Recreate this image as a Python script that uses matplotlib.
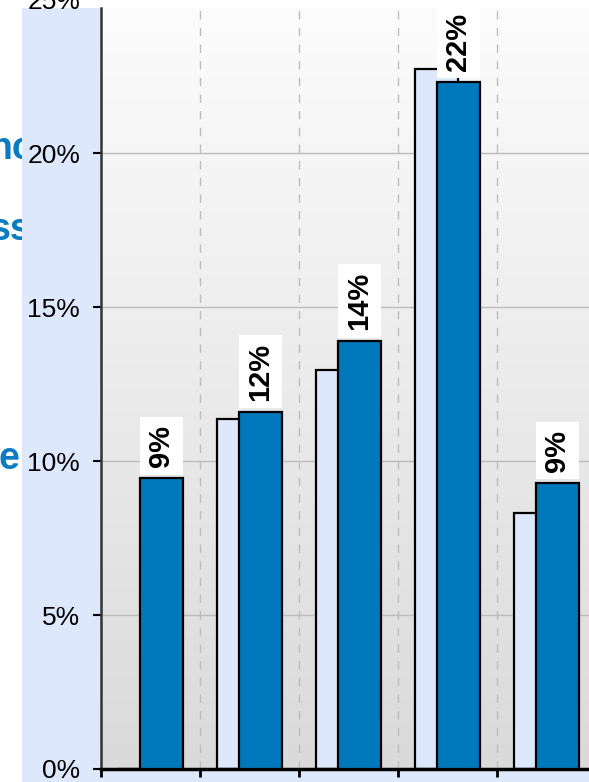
import numpy as np
import matplotlib
matplotlib.use("Agg")
import matplotlib.pyplot as plt
from matplotlib.colors import LinearSegmentedColormap
from matplotlib.patches import Rectangle
from matplotlib.transforms import Bbox, TransformedBbox

# share of respondents per group, previous vs current survey
groups = ['A', 'B', 'C', 'D', 'E']
previous = [0.0, 0.1137, 0.1296, 0.2274, 0.0832]
current = [0.0945, 0.1160, 0.1390, 0.2232, 0.0929]
y_ticks = [0.0, 0.05, 0.10, 0.15, 0.20]

W, H = 589, 782
DARK = '#0079BC'
LIGHT = '#DDE8FC'
PANEL = '#DDE8FC'
BAR_W = 0.444

plt.rcParams['font.family'] = ['Liberation Sans', 'DejaVu Sans']

fig = plt.figure(figsize=(W / 100, H / 100), dpi=100)
fig.patch.set_facecolor('white')

# slide headline peeking out to the left of the chart panel
left_strip = TransformedBbox(Bbox([[0, 0], [22 / W, 1]]), fig.transFigure)
for txt, x, y in [('nc', -10, 159), ('ss', -10, 240), ('e', -1, 469)]:
    t = fig.text(x / W, 1 - y / H, txt, fontsize=27, fontweight='bold',
                 color='#0A7CC1', ha='left', va='baseline', zorder=-2)
    t.set_clip_box(left_strip)
    t.set_clip_on(True)

fig.add_artist(Rectangle((22 / W, 0), 1, (H - 8) / H, transform=fig.transFigure,
                         facecolor=PANEL, edgecolor='none', zorder=-1))

ax = fig.add_axes([101 / W, 13 / H, 495 / W, 761 / H])

# vertical gradient for the plot area
grad = LinearSegmentedColormap.from_list('bg', ['#DADADA', '#FCFCFC'])
ax.imshow(np.linspace(0, 1, 256).reshape(-1, 1), cmap=grad, origin='lower',
          extent=[0, 1, 0, 1], transform=ax.transAxes, aspect='auto', zorder=0)

x = np.arange(len(groups))
ax.bar(x - BAR_W / 4, previous, BAR_W, color=LIGHT, edgecolor='black',
       linewidth=1.6, zorder=2)
ax.bar(x + BAR_W / 4, current, BAR_W, color=DARK, edgecolor='black',
       linewidth=1.6, zorder=3)

for xi, v in zip(x, current):
    ax.annotate(f'{v:.0%}', xy=(xi + BAR_W / 4, v), xytext=(0, 8),
                textcoords='offset points', rotation=90, ha='center', va='bottom',
                fontsize=21, fontweight='bold', color='black', zorder=5,
                bbox=dict(boxstyle='square,pad=0.26', facecolor='white', edgecolor='none'))

ax.set_xlim(-0.5, 4.5)
ax.set_ylim(0, 0.2472)

# gridlines
for yv in y_ticks[1:]:
    ax.axhline(yv, color='#BBBBBB', linewidth=1, zorder=1)
for xv in np.arange(0.5, 4.5, 1):
    ax.axvline(xv, color='#BDBDBD', linewidth=1, linestyle=(0, (6, 6)), zorder=1)

ax.set_yticks(y_ticks)
ax.set_yticklabels([f'{t:.0%}' for t in y_ticks])
ax.set_xticks(np.arange(-0.5, 5.0, 1))
ax.set_xticklabels([])
ax.tick_params(axis='y', length=6, width=1.5, pad=9, labelsize=19, colors='black')
ax.tick_params(axis='x', length=6, width=2, direction='out')

# top label sits just above the visible range
ax.annotate('25%', xy=(0, 0.25), xycoords=ax.get_yaxis_transform(),
            xytext=(-15, 0), textcoords='offset points', ha='right',
            va='center_baseline', fontsize=19, annotation_clip=False)

for side in ['top', 'right']:
    ax.spines[side].set_visible(False)
ax.spines['left'].set_linewidth(1.8)
ax.spines['left'].set_color('#333333')
ax.spines['bottom'].set_linewidth(2.5)
ax.spines['bottom'].set_color('black')

fig.savefig('out.png', dpi=100)
